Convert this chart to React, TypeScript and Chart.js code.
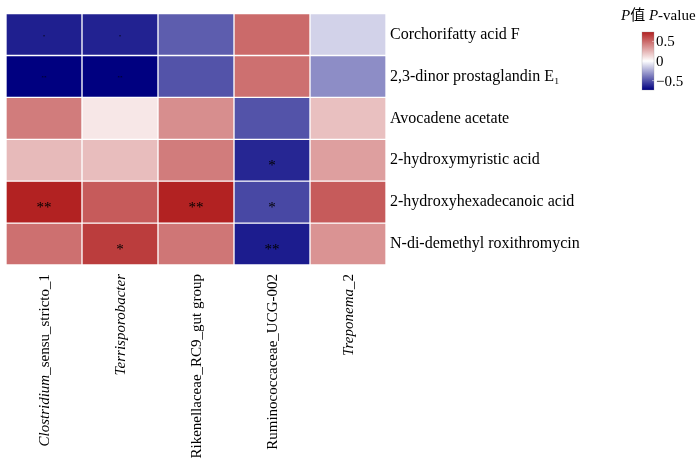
import React, { useEffect, useRef } from "react";
import { Chart, registerables } from "chart.js";

Chart.register(...registerables);

// Columns (genera); italic prefix for genus names
const genera = [
  "Clostridium_sensu_stricto_1",
  "Terrisporobacter",
  "Rikenellaceae_RC9_gut group",
  "Ruminococcaceae_UCG-002",
  "Treponema_2",
];
const generaItalic = ["Clostridium", "Terrisporobacter", "", "", "Treponema"];

// Rows (metabolites)
const metabolites = [
  "Corchorifatty acid F",
  "2,3-dinor prostaglandin E\u2081",
  "Avocadene acetate",
  "2-hydroxymyristic acid",
  "2-hydroxyhexadecanoic acid",
  "N-di-demethyl roxithromycin",
];

// Correlation values per row (one value per genus)
const corchorifattyAcidF = [-0.65, -0.64, -0.47, 0.5, -0.13];
const dinorProstaglandinE1 = [-0.74, -0.74, -0.5, 0.48, -0.33];
const avocadeneAcetate = [0.44, 0.08, 0.38, -0.5, 0.21];
const hydroxymyristicAcid = [0.23, 0.22, 0.44, -0.63, 0.32];
const hydroxyhexadecanoicAcid = [0.74, 0.55, 0.74, -0.53, 0.55];
const diDemethylRoxithromycin = [0.48, 0.65, 0.46, -0.66, 0.36];
const values = [
  corchorifattyAcidF,
  dinorProstaglandinE1,
  avocadeneAcetate,
  hydroxymyristicAcid,
  hydroxyhexadecanoicAcid,
  diDemethylRoxithromycin,
];

// Significance marks per row
const sigCorchorifatty = ["*", "*", "", "", ""];
const sigDinor = ["**", "**", "", "", ""];
const sigAvocadene = ["", "", "", "", ""];
const sigMyristic = ["", "", "", "*", ""];
const sigHexadecanoic = ["**", "", "**", "*", ""];
const sigRoxithromycin = ["", "*", "", "**", ""];
const significance = [
  sigCorchorifatty,
  sigDinor,
  sigAvocadene,
  sigMyristic,
  sigHexadecanoic,
  sigRoxithromycin,
];
// rows whose marks are drawn tiny in the original
const tinyMarkRows = [0, 1];

const colorTicks = [0.5, 0, -0.5];
const colorTickLabels = ["0.5", "0", "\u22120.5"];
const colorMax = 0.74;

const SERIF = '"Liberation Serif", "Times New Roman", "Noto Sans CJK SC", serif';

function colorFor(v: number): string {
  const f = Math.max(-1, Math.min(1, v / colorMax));
  let r: number, g: number, b: number;
  if (f >= 0) {
    r = 255 + (178 - 255) * f;
    g = 255 + (34 - 255) * f;
    b = g;
  } else {
    const a = -f;
    r = 255 * (1 - a);
    g = r;
    b = 255 + (128 - 255) * a;
  }
  return `rgb(${Math.round(r)},${Math.round(g)},${Math.round(b)})`;
}

const overlayPlugin = {
  id: "heatOverlay",
  afterDatasetsDraw(chart: any) {
    const ctx: CanvasRenderingContext2D = chart.ctx;
    const xs = chart.scales.x;
    const ys = chart.scales.y;
    const area = chart.chartArea;

    // significance marks
    ctx.save();
    ctx.fillStyle = "#000";
    ctx.textAlign = "center";
    ctx.textBaseline = "alphabetic";
    significance.forEach((row, r) => {
      row.forEach((m, c) => {
        if (!m) return;
        const cx = xs.getPixelForValue(c);
        const cy = ys.getPixelForValue(r + 0.5);
        if (tinyMarkRows.includes(r)) {
          ctx.font = `5px ${SERIF}`;
          ctx.fillText(m, cx, cy + 3);
        } else {
          ctx.font = `15px ${SERIF}`;
          ctx.fillText(m, cx, cy + 10);
        }
      });
    });
    ctx.restore();

    // x labels (rotated, partly italic)
    const fontSize = 15;
    genera.forEach((name, i) => {
      const it = generaItalic[i];
      const rest = name.slice(it.length);
      const cx = xs.getPixelForValue(i);
      ctx.save();
      ctx.translate(cx + 1, area.bottom + 9);
      ctx.rotate(-Math.PI / 2);
      ctx.fillStyle = "#000";
      ctx.textBaseline = "middle";
      ctx.textAlign = "left";
      ctx.font = `italic ${fontSize}px ${SERIF}`;
      const wi = it ? ctx.measureText(it).width : 0;
      ctx.font = `${fontSize}px ${SERIF}`;
      const wr = rest ? ctx.measureText(rest).width : 0;
      const start = -(wi + wr);
      if (it) {
        ctx.font = `italic ${fontSize}px ${SERIF}`;
        ctx.fillText(it, start, 0);
      }
      if (rest) {
        ctx.font = `${fontSize}px ${SERIF}`;
        ctx.fillText(rest, start + wi, 0);
      }
      ctx.restore();
    });

    // legend title
    ctx.save();
    ctx.fillStyle = "#000";
    ctx.textBaseline = "alphabetic";
    ctx.textAlign = "left";
    let tx = 621;
    const ty = 20;
    const parts: [string, boolean][] = [
      ["P", true],
      ["\u503c", false],
      [" ", false],
      ["P", true],
      ["-value", false],
    ];
    parts.forEach(([t, ital]) => {
      ctx.font = `${ital ? "italic " : ""}15px ${SERIF}`;
      ctx.fillText(t, tx, ty);
      tx += ctx.measureText(t).width;
    });
    ctx.restore();

    // colour bar
    const barX = 642;
    const barW = 12;
    const barTop = 32;
    const barBottom = 90;
    const mid = (barTop + barBottom) / 2;
    const half = (barBottom - barTop) / 2;
    const yFor = (v: number) => mid - (v / colorMax) * half;
    ctx.save();
    const grad = ctx.createLinearGradient(0, barTop, 0, barBottom);
    grad.addColorStop(0, colorFor(colorMax));
    grad.addColorStop(0.5, colorFor(0));
    grad.addColorStop(1, colorFor(-colorMax));
    ctx.fillStyle = grad;
    ctx.fillRect(barX, barTop, barW, barBottom - barTop);
    ctx.strokeStyle = "rgba(150,150,150,0.6)";
    ctx.lineWidth = 0.5;
    ctx.strokeRect(barX, barTop, barW, barBottom - barTop);
    ctx.fillStyle = "#000";
    ctx.font = `15px ${SERIF}`;
    ctx.textBaseline = "middle";
    ctx.textAlign = "left";
    colorTicks.forEach((v, i) => {
      const y = yFor(v);
      ctx.strokeStyle = "rgba(255,255,255,0.9)";
      ctx.beginPath();
      ctx.moveTo(barX + barW - 2, y);
      ctx.lineTo(barX + barW, y);
      ctx.stroke();
      ctx.fillText(colorTickLabels[i], barX + barW + 2, y + 1);
    });
    ctx.restore();
  },
};

export default function App() {
  const ref = useRef<HTMLCanvasElement | null>(null);
  useEffect(() => {
    document.body.style.margin = "0";
    const canvas = ref.current;
    if (!canvas) return;
    const chart = new Chart(canvas, {
      type: "bar",
      data: {
        labels: genera,
        datasets: metabolites.map((m, r) => ({
          label: m,
          data: genera.map(() => [r, r + 1]) as any,
          backgroundColor: values[r].map(colorFor),
          borderColor: "rgba(255,255,255,0.18)",
          borderWidth: 1,
          borderSkipped: false,
          grouped: false,
          barPercentage: 1,
          categoryPercentage: 1,
        })),
      },
      options: {
        responsive: false,
        animation: false,
        devicePixelRatio: 1,
        layout: { padding: { left: 6, top: 13, right: 0, bottom: 0 } },
        plugins: {
          legend: { display: false },
          tooltip: { enabled: false },
          title: { display: false },
        },
        scales: {
          x: {
            type: "category",
            offset: true,
            grid: { display: false, drawTicks: false },
            border: { display: false },
            ticks: { display: false },
            afterFit: (s: any) => {
              s.height = 201;
            },
          },
          y: {
            type: "linear",
            min: 0,
            max: 6,
            reverse: true,
            position: "right",
            grid: { display: false, drawTicks: false },
            border: { display: false },
            afterBuildTicks: (s: any) => {
              s.ticks = metabolites.map((_, i) => ({ value: i + 0.5 }));
            },
            ticks: {
              autoSkip: false,
              padding: 4,
              color: "#000",
              font: { family: SERIF, size: 16 },
              callback: (_v: any, i: number) => metabolites[i],
            },
            afterFit: (s: any) => {
              s.width = 314;
            },
          },
        },
      },
      plugins: [overlayPlugin],
    });
    return () => chart.destroy();
  }, []);
  return (
    <div style={{ width: 700, height: 466 }}>
      <canvas ref={ref} width={700} height={466} style={{ display: "block" }} />
    </div>
  );
}
